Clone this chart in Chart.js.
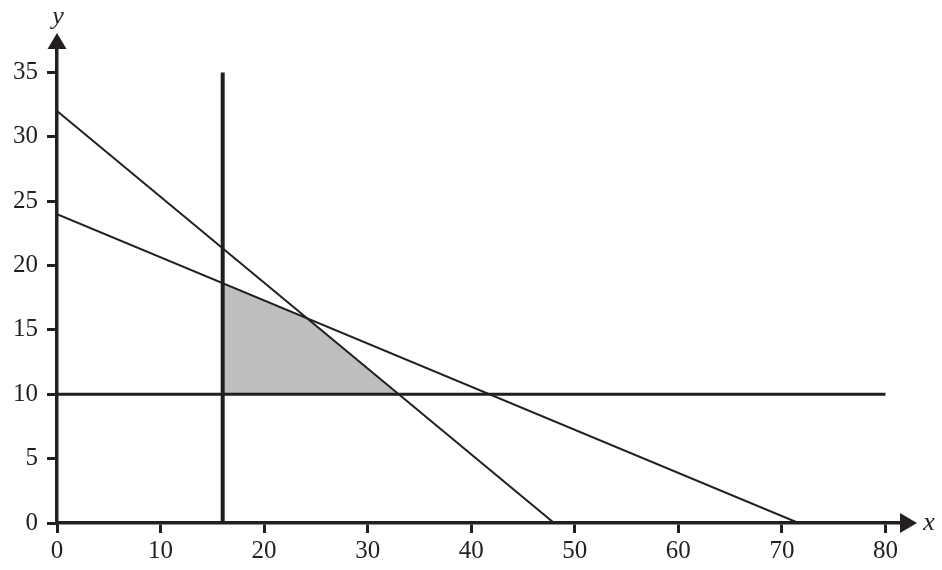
<!DOCTYPE html>
<html>
<head>
<meta charset="utf-8">
<script src="https://cdn.jsdelivr.net/npm/chart.js@4/dist/chart.umd.min.js"></script>
<style>
html,body{margin:0;padding:0;background:#fff;}
#wrap{width:942px;height:570px;position:relative;}
</style>
</head>
<body>
<div id="wrap"><canvas id="c" width="942" height="570"></canvas></div>
<script>
// ---- data ----
const xTicks = [0, 10, 20, 30, 40, 50, 60, 70, 80];
const yTicks = [0, 5, 10, 15, 20, 25, 30, 35];
const lineA_x = [0, 48];
const lineA_y = [32, 0];
const lineB_x = [0, 71.6];
const lineB_y = [24, 0];
const lineC_x = [16, 16];
const lineC_y = [0, 35];
const lineD_x = [0, 80];
const lineD_y = [10, 10];
const region_x = [16, 16, 24, 33, 16];
const region_y = [10, 18.67, 16, 10, 10];
const xMax = 81.5;
const yMax = 36.9;

// ---- layout ----
const INK = '#231f20';
const FONT = '"Liberation Serif", "Times New Roman", serif';
const W = 942, H = 570;
const areaLeft = 57, areaBottom = 523, areaTop = 48, areaRight = 901;

const pts = (xs, ys) => xs.map((x, i) => ({x: x, y: ys[i]}));

const lineDs = (xs, ys, w) => ({
  data: pts(xs, ys), showLine: true, borderColor: INK, borderWidth: w,
  pointRadius: 0, fill: false, tension: 0
});

const arrows = {
  id: 'arrows',
  afterDraw(chart) {
    const ctx = chart.ctx;
    const a = chart.chartArea;
    const xs = chart.scales.x, ys = chart.scales.y;
    const ox = xs.getPixelForValue(0), oy = ys.getPixelForValue(0);
    ctx.save();
    ctx.fillStyle = INK;
    // y arrow
    ctx.beginPath();
    ctx.moveTo(ox - 9.5, a.top + 1);
    ctx.lineTo(ox + 9.5, a.top + 1);
    ctx.lineTo(ox, a.top - 15);
    ctx.closePath();
    ctx.fill();
    // x arrow
    ctx.beginPath();
    ctx.moveTo(a.right - 1, oy - 10);
    ctx.lineTo(a.right - 1, oy + 10);
    ctx.lineTo(a.right + 16, oy);
    ctx.closePath();
    ctx.fill();
    // axis names
    ctx.font = 'italic 26px ' + FONT;
    ctx.textAlign = 'center';
    ctx.textBaseline = 'alphabetic';
    ctx.fillText('y', ox + 1, 24);
    ctx.fillText('x', a.right + 28, oy + 7);
    ctx.restore();
  }
};

new Chart(document.getElementById('c'), {
  type: 'scatter',
  data: {
    datasets: [
      lineDs(lineA_x, lineA_y, 2),
      lineDs(lineB_x, lineB_y, 2),
      lineDs(lineC_x, lineC_y, 4),
      lineDs(lineD_x, lineD_y, 3),
      {
        data: pts(region_x, region_y), showLine: true, borderWidth: 0,
        borderColor: 'rgba(0,0,0,0)', backgroundColor: '#bcbec0',
        pointRadius: 0, fill: 'shape', tension: 0
      }
    ]
  },
  options: {
    responsive: false,
    animation: false,
    devicePixelRatio: 1,
    layout: {padding: {top: areaTop, right: W - areaRight, left: 0, bottom: 0}},
    plugins: {legend: {display: false}, tooltip: {enabled: false}},
    scales: {
      x: {
        type: 'linear', min: 0, max: xMax,
        afterBuildTicks: s => { s.ticks = xTicks.map(v => ({value: v})); },
        afterFit: s => { s.height = H - areaBottom; },
        grid: {display: true, drawOnChartArea: false, drawTicks: true, tickLength: 10, lineWidth: 3, color: INK},
        border: {display: true, width: 3.5, color: INK},
        ticks: {color: INK, font: {family: FONT, size: 25}, padding: 3, maxRotation: 0,
          callback: v => String(v)}
      },
      y: {
        type: 'linear', min: 0, max: yMax,
        afterBuildTicks: s => { s.ticks = yTicks.map(v => ({value: v})); },
        afterFit: s => { s.width = areaLeft; },
        grid: {display: true, drawOnChartArea: false, drawTicks: true, tickLength: 10, lineWidth: 3, color: INK},
        border: {display: true, width: 3.5, color: INK},
        ticks: {color: INK, font: {family: FONT, size: 25}, padding: 9,
          callback: v => String(v)}
      }
    }
  },
  plugins: [arrows]
});
</script>
</body>
</html>
